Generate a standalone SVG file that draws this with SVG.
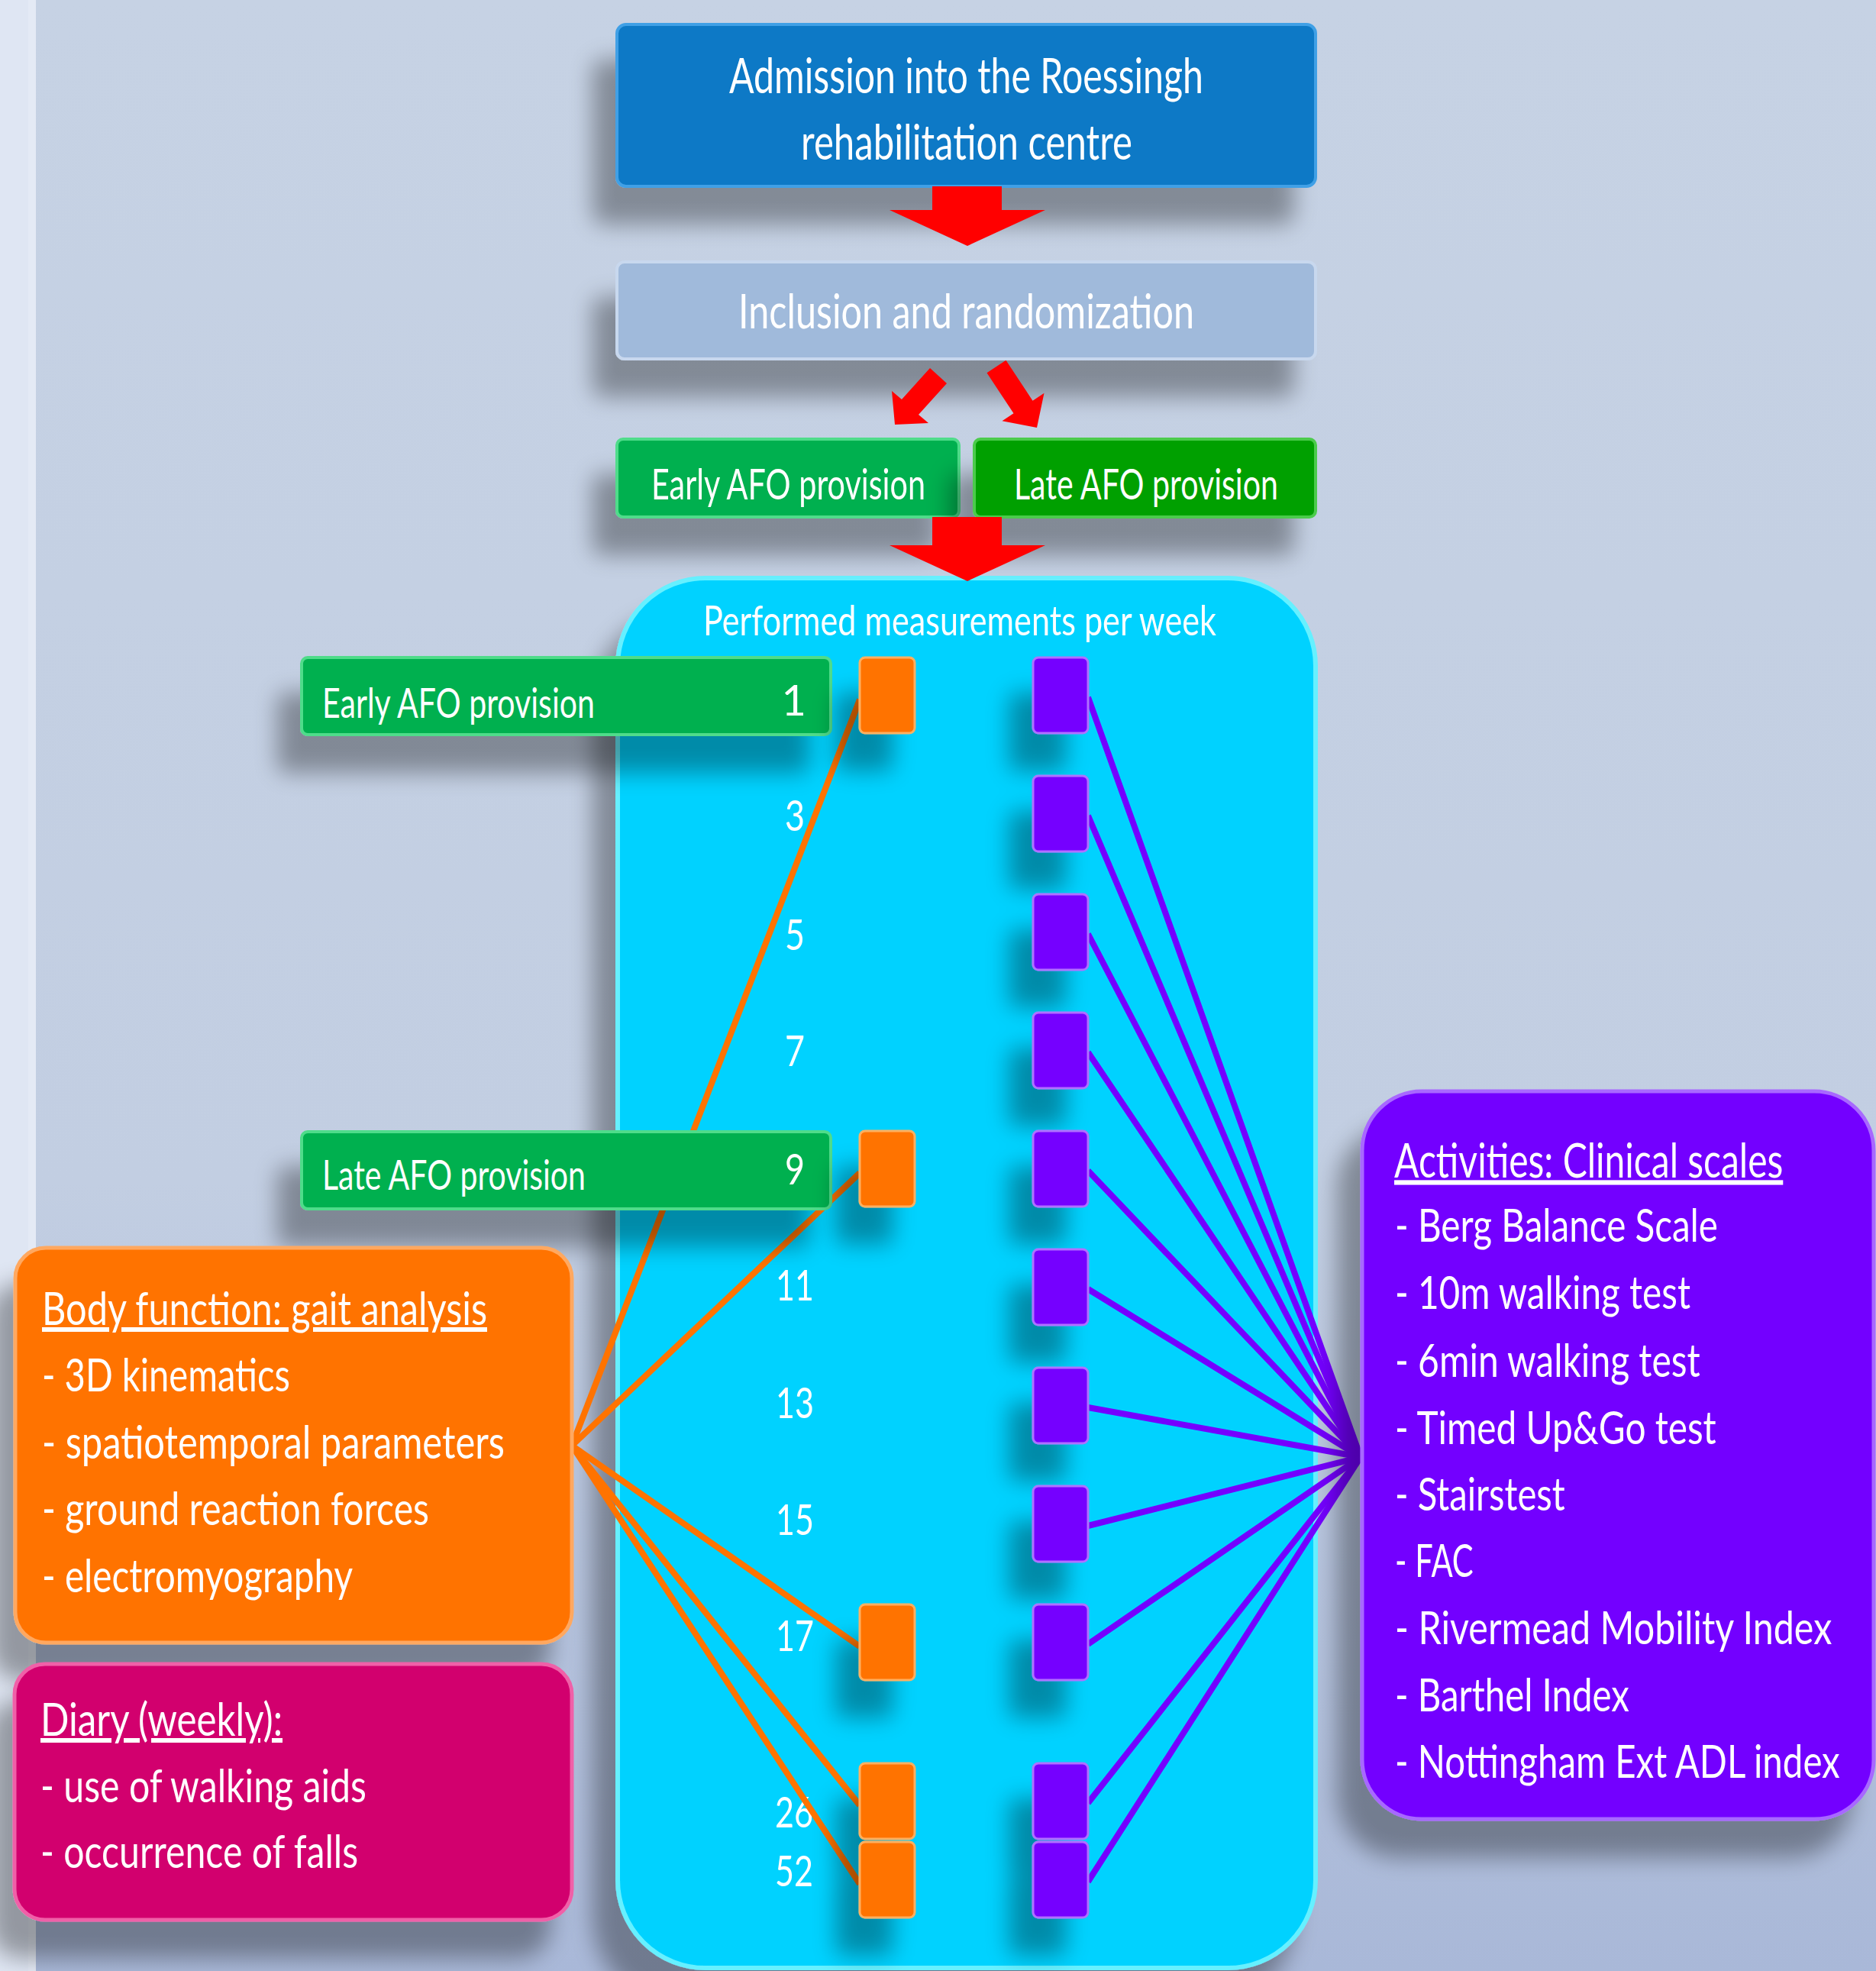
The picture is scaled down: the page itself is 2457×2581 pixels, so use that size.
<svg xmlns="http://www.w3.org/2000/svg" width="2457" height="2581" viewBox="0 0 2457 2581">
<defs>
<linearGradient id="bg" x1="0" y1="0" x2="0" y2="1">
<stop offset="0" stop-color="#C6D2E4"/>
<stop offset="0.6" stop-color="#C2CEE2"/>
<stop offset="1" stop-color="#A9B8D8"/>
</linearGradient>
<filter id="sh" filterUnits="userSpaceOnUse" x="-200" y="-200" width="2900" height="3000">
<feGaussianBlur in="SourceAlpha" stdDeviation="15"/>
<feOffset dx="-30" dy="48" result="b"/>
<feComponentTransfer><feFuncA type="linear" slope="0.34"/></feComponentTransfer>
<feMerge><feMergeNode/><feMergeNode in="SourceGraphic"/></feMerge>
</filter>
<style>
.t{fill:#fff;font-family:Lato,'Open Sans',sans-serif;}
.wk{fill:#fff;font-family:Lato,'Open Sans',sans-serif;font-size:56px;text-anchor:middle;}
.sqo{fill:#FF7300;stroke:#FFB060;stroke-width:3;}
.sqp{fill:#7400FF;stroke:#B070FF;stroke-width:3;}
.arr{fill:#FF0000;}
.lo{stroke:#FF7300;stroke-width:8;fill:none;}
.lp{stroke:#7400FF;stroke-width:8;fill:none;}
</style>
</defs>
<rect width="2457" height="2581" fill="url(#bg)"/>
<rect x="0" y="0" width="37" height="2581" fill="#DFE6F3"/>
<rect x="37" y="0" width="10" height="2581" fill="#E4EAF5"/>

<g id="measurements-panel">
<rect x="809" y="757" width="914" height="1820" rx="115" fill="#00D2FF" stroke="#66F0FF" stroke-width="6" filter="url(#sh)"/>
<text class="t" x="921" y="832" font-size="54" textLength="672" lengthAdjust="spacingAndGlyphs">Performed measurements per week</text>
</g>

<g id="admission">
<rect x="808" y="32" width="915" height="212" rx="12" fill="#0A79C6" stroke="#3FA0E6" stroke-width="4" filter="url(#sh)"/>
<text class="t" x="955" y="122" font-size="63" textLength="621" lengthAdjust="spacingAndGlyphs">Admission into the Roessingh</text>
<text class="t" x="1049" y="209" font-size="63" textLength="434" lengthAdjust="spacingAndGlyphs">rehabilitation centre</text>
</g>

<g id="inclusion">
<rect x="808" y="343" width="915" height="127" rx="10" fill="#A0BADB" stroke="#C8D8EE" stroke-width="4" filter="url(#sh)"/>
<text class="t" x="967" y="430" font-size="61" textLength="597" lengthAdjust="spacingAndGlyphs">Inclusion and randomization</text>
</g>

<g id="early-afo-top">
<rect x="808" y="575" width="448" height="102" rx="8" fill="#00B050" stroke="#4FDC8A" stroke-width="4" filter="url(#sh)"/>
<text class="t" x="853" y="654" font-size="56" textLength="359" lengthAdjust="spacingAndGlyphs">Early AFO provision</text>
</g>

<g id="late-afo-top">
<rect x="1276" y="575" width="447" height="102" rx="8" fill="#02A002" stroke="#4CCB4C" stroke-width="4" filter="url(#sh)"/>
<text class="t" x="1328" y="654" font-size="56" textLength="346" lengthAdjust="spacingAndGlyphs">Late AFO provision</text>
</g>

<g id="week-labels">
<text class="wk" x="1041" y="1088" textLength="26" lengthAdjust="spacingAndGlyphs">3</text>
<text class="wk" x="1041" y="1244" textLength="26" lengthAdjust="spacingAndGlyphs">5</text>
<text class="wk" x="1041" y="1396" textLength="26" lengthAdjust="spacingAndGlyphs">7</text>
<text class="wk" x="1041" y="1703" textLength="50" lengthAdjust="spacingAndGlyphs">11</text>
<text class="wk" x="1041" y="1857" textLength="50" lengthAdjust="spacingAndGlyphs">13</text>
<text class="wk" x="1041" y="2010" textLength="50" lengthAdjust="spacingAndGlyphs">15</text>
<text class="wk" x="1041" y="2162" textLength="50" lengthAdjust="spacingAndGlyphs">17</text>
<text class="wk" x="1040" y="2393" textLength="50" lengthAdjust="spacingAndGlyphs">26</text>
<text class="wk" x="1040" y="2470" textLength="50" lengthAdjust="spacingAndGlyphs">52</text>
</g>

<g id="connectors">
<polygon class="arr" points="1221,244 1312,244 1312,275 1369,275 1267,322 1165,275 1221,275"/>
<polygon class="arr" points="1218,482 1240,502 1203,543 1216,554 1172,556 1168,512 1181,523"/>
<polygon class="arr" points="1317.5,471.7 1352.5,524.7 1367.5,514.8 1358,560 1312.5,551.2 1327.5,541.3 1292.5,488.3"/>
<polygon class="arr" points="1221,677 1312,677 1312,714 1369,714 1267,761 1165,714 1221,714"/>
<line class="lo" x1="749" y1="1893" x2="1126" y2="916"/>
<line class="lo" x1="749" y1="1893" x2="1126" y2="1536"/>
<line class="lo" x1="749" y1="1893" x2="1126" y2="2156"/>
<line class="lo" x1="749" y1="1893" x2="1126" y2="2364"/>
<line class="lo" x1="749" y1="1893" x2="1126" y2="2467"/>
<line class="lp" x1="1425" y1="913" x2="1782" y2="1908"/>
<line class="lp" x1="1425" y1="1068" x2="1782" y2="1908"/>
<line class="lp" x1="1425" y1="1223" x2="1782" y2="1908"/>
<line class="lp" x1="1425" y1="1378" x2="1782" y2="1908"/>
<line class="lp" x1="1425" y1="1533" x2="1782" y2="1908"/>
<line class="lp" x1="1425" y1="1688" x2="1782" y2="1908"/>
<line class="lp" x1="1425" y1="1843" x2="1782" y2="1908"/>
<line class="lp" x1="1425" y1="1998" x2="1782" y2="1908"/>
<line class="lp" x1="1425" y1="2153" x2="1782" y2="1908"/>
<line class="lp" x1="1425" y1="2361" x2="1782" y2="1908"/>
<line class="lp" x1="1425" y1="2464" x2="1782" y2="1908"/>
</g>

<g id="early-afo-bar">
<rect x="395" y="861" width="693" height="101" rx="8" fill="#00B050" stroke="#4FDC8A" stroke-width="4" filter="url(#sh)"/>
<text class="t" x="422" y="940" font-size="54" textLength="357" lengthAdjust="spacingAndGlyphs">Early AFO provision</text>
<text class="t" x="1056" y="937" font-size="56" text-anchor="end">1</text>
</g>

<g id="late-afo-bar">
<rect x="395" y="1482" width="693" height="101" rx="8" fill="#00B050" stroke="#4FDC8A" stroke-width="4" filter="url(#sh)"/>
<text class="t" x="422" y="1558" font-size="54" textLength="345" lengthAdjust="spacingAndGlyphs">Late AFO provision</text>
<text class="t" x="1054" y="1551" font-size="56" text-anchor="end" textLength="26" lengthAdjust="spacingAndGlyphs">9</text>
</g>

<g id="gait-squares" filter="url(#sh)">
<rect class="sqo" x="1126" y="861" width="72" height="99" rx="7"/>
<rect class="sqo" x="1126" y="1481" width="72" height="99" rx="7"/>
<rect class="sqo" x="1126" y="2101" width="72" height="99" rx="7"/>
<rect class="sqo" x="1126" y="2309" width="72" height="99" rx="7"/>
<rect class="sqo" x="1126" y="2412" width="72" height="99" rx="7"/>
</g>

<g id="clinical-squares" filter="url(#sh)">
<rect class="sqp" x="1353" y="861" width="72" height="99" rx="7"/>
<rect class="sqp" x="1353" y="1016" width="72" height="99" rx="7"/>
<rect class="sqp" x="1353" y="1171" width="72" height="99" rx="7"/>
<rect class="sqp" x="1353" y="1326" width="72" height="99" rx="7"/>
<rect class="sqp" x="1353" y="1481" width="72" height="99" rx="7"/>
<rect class="sqp" x="1353" y="1636" width="72" height="99" rx="7"/>
<rect class="sqp" x="1353" y="1791" width="72" height="99" rx="7"/>
<rect class="sqp" x="1353" y="1946" width="72" height="99" rx="7"/>
<rect class="sqp" x="1353" y="2101" width="72" height="99" rx="7"/>
<rect class="sqp" x="1353" y="2309" width="72" height="99" rx="7"/>
<rect class="sqp" x="1353" y="2412" width="72" height="99" rx="7"/>
</g>

<g id="body-function">
<rect x="20" y="1634" width="729" height="517" rx="40" fill="#FF7300" stroke="#FFA860" stroke-width="5" filter="url(#sh)"/>
<text class="t" x="55" y="1735" font-size="60" textLength="583" lengthAdjust="spacingAndGlyphs" text-decoration="underline">Body function: gait analysis</text>
<text class="t" x="55" y="1822" font-size="60" textLength="325" lengthAdjust="spacingAndGlyphs">- 3D kinematics</text>
<text class="t" x="55" y="1910" font-size="60" textLength="606" lengthAdjust="spacingAndGlyphs">- spatiotemporal parameters</text>
<text class="t" x="55" y="1997" font-size="60" textLength="507" lengthAdjust="spacingAndGlyphs">- ground reaction forces</text>
<text class="t" x="55" y="2085" font-size="60" textLength="407" lengthAdjust="spacingAndGlyphs">- electromyography</text>
</g>

<g id="diary">
<rect x="19" y="2179" width="730" height="335" rx="40" fill="#D2006E" stroke="#F060A8" stroke-width="5" filter="url(#sh)"/>
<text class="t" x="53" y="2273" font-size="60" textLength="317" lengthAdjust="spacingAndGlyphs" text-decoration="underline">Diary (weekly):</text>
<text class="t" x="53" y="2360" font-size="60" textLength="427" lengthAdjust="spacingAndGlyphs">- use of walking aids</text>
<text class="t" x="53" y="2446" font-size="60" textLength="416" lengthAdjust="spacingAndGlyphs">- occurrence of falls</text>
</g>

<g id="activities">
<rect x="1784" y="1429" width="670" height="953" rx="78" fill="#7300FF" stroke="#A868FF" stroke-width="5" filter="url(#sh)"/>
<g transform="translate(1827 0) scale(0.75 1)">
<text class="t" x="-1.3" y="1542" font-size="62" textLength="679" lengthAdjust="spacingAndGlyphs" text-decoration="underline">Activities: Clinical scales</text>
<text class="t" x="0" y="1626" font-size="60" textLength="564" lengthAdjust="spacingAndGlyphs">- Berg Balance Scale</text>
<text class="t" x="0" y="1714" font-size="60" textLength="516" lengthAdjust="spacingAndGlyphs">- 10m walking test</text>
<text class="t" x="0" y="1803" font-size="60" textLength="533" lengthAdjust="spacingAndGlyphs">- 6min walking test</text>
<text class="t" x="0" y="1891" font-size="60" textLength="561" lengthAdjust="spacingAndGlyphs">- Timed Up&amp;Go test</text>
<text class="t" x="0" y="1978" font-size="60" textLength="297" lengthAdjust="spacingAndGlyphs">- Stairstest</text>
<text class="t" x="0" y="2065" font-size="60" textLength="137" lengthAdjust="spacingAndGlyphs">- FAC</text>
<text class="t" x="0" y="2153" font-size="60" textLength="763" lengthAdjust="spacingAndGlyphs">- Rivermead Mobility Index</text>
<text class="t" x="0" y="2241" font-size="60" textLength="409" lengthAdjust="spacingAndGlyphs">- Barthel Index</text>
<text class="t" x="0" y="2328" font-size="60" textLength="777" lengthAdjust="spacingAndGlyphs">- Nottingham Ext ADL index</text>
</g>
</g>
</svg>
